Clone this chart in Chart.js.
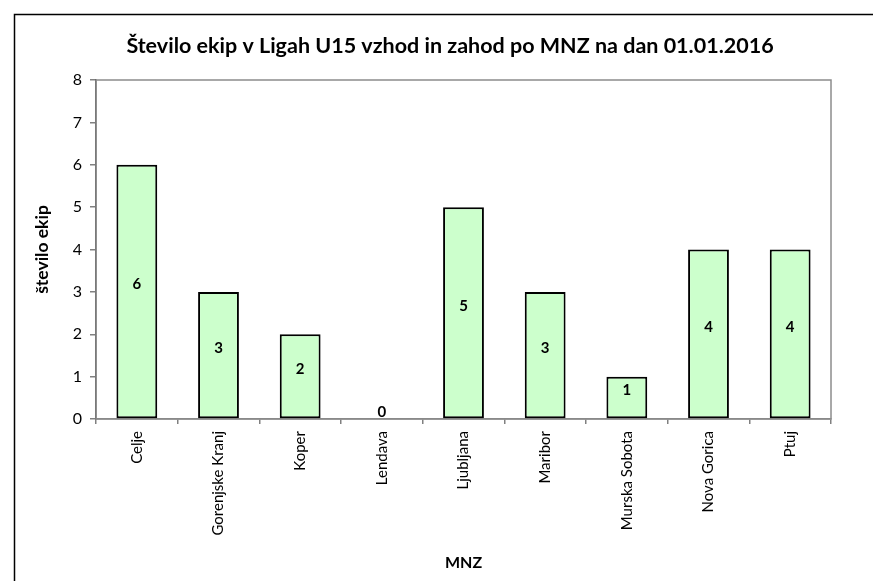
<!DOCTYPE html>
<html>
<head>
<meta charset="utf-8">
<script src="https://cdn.jsdelivr.net/npm/chart.js@4.4.0/dist/chart.umd.min.js"></script>
<style>
html,body{margin:0;padding:0;background:#fff;}
#wrap{width:873px;height:581px;position:relative;}
</style>
</head>
<body>
<div id="wrap"><canvas id="c" width="873" height="581"></canvas></div>
<script>
const categories = ["Celje","Gorenjske Kranj","Koper","Lendava","Ljubljana","Maribor","Murska Sobota","Nova Gorica","Ptuj"];
const teamCounts = [6,3,2,0,5,3,1,4,4];
const yTicks = [0,1,2,3,4,5,6,7,8];
const chartTitle = "Število ekip v Ligah U15 vzhod in zahod po MNZ na dan 01.01.2016";
const yTitle = "število ekip";
const xTitle = "MNZ";

const FONT = "Lato, 'Open Sans', sans-serif";

const frame = {
  id: 'frame',
  beforeDraw(chart) {
    const ctx = chart.ctx;
    ctx.save();
    ctx.fillStyle = '#fff';
    ctx.fillRect(0, 0, chart.width, chart.height);
    ctx.strokeStyle = '#000';
    ctx.lineWidth = 1.5;
    ctx.strokeRect(14.5, 14.5, chart.width + 20, chart.height + 20);
    ctx.font = "bold 21.5px " + FONT;
    ctx.fillStyle = '#000';
    ctx.textAlign = 'center';
    ctx.textBaseline = 'middle';
    ctx.fillText(chartTitle, 450, 46);
    ctx.restore();
  },
  beforeDatasetsDraw(chart) {
    const a = chart.chartArea;
    const ctx = chart.ctx;
    ctx.save();
    ctx.strokeStyle = '#8c8c8c';
    ctx.lineWidth = 1.5;
    ctx.strokeRect(a.left, a.top, a.right - a.left, a.bottom - a.top);
    ctx.restore();
  },
  afterDatasetsDraw(chart) {
    const ctx = chart.ctx;
    const meta = chart.getDatasetMeta(0);
    ctx.save();
    ctx.font = "bold 15px " + FONT;
    ctx.fillStyle = '#000';
    ctx.textAlign = 'center';
    ctx.textBaseline = 'middle';
    meta.data.forEach((bar, i) => {
      const cy = (bar.y + bar.base) / 2 - 7;
      ctx.fillText(String(teamCounts[i]), bar.x, cy);
    });
    ctx.restore();
  }
};

new Chart(document.getElementById('c'), {
  type: 'bar',
  data: {
    labels: categories,
    datasets: [{
      data: teamCounts,
      backgroundColor: '#CCFFCC',
      borderColor: '#000',
      borderWidth: 2,
      borderSkipped: false,
      barPercentage: 0.5,
      categoryPercentage: 1.0
    }]
  },
  options: {
    responsive: false,
    animation: false,
    devicePixelRatio: 1,
    layout: { padding: { left: 0, top: 80, right: 42, bottom: 0 } },
    plugins: {
      legend: { display: false },
      tooltip: { enabled: false },
      title: { display: false }
    },
    scales: {
      x: {
        grid: { display: true, drawOnChartArea: false, drawTicks: true, tickLength: 5, color: '#808080', lineWidth: 1.5, offset: true },
        border: { display: true, color: '#808080', width: 1.5 },
        ticks: { color: '#000', font: { family: FONT, size: 15 }, maxRotation: 90, minRotation: 90, padding: 7, autoSkip: false },
        title: { display: true, text: xTitle, color: '#000', font: { family: FONT, size: 16, weight: 'bold' }, padding: { top: 0, bottom: 9 } },
        afterFit(scale) { scale.height = 162; }
      },
      y: {
        min: 0, max: 8,
        afterBuildTicks(scale) { scale.ticks = yTicks.map(v => ({ value: v })); },
        grid: { display: true, drawOnChartArea: false, drawTicks: true, tickLength: 6, color: '#808080', lineWidth: 1.5 },
        border: { display: true, color: '#404040', width: 1.5 },
        ticks: { color: '#000', font: { family: FONT, size: 16 }, padding: 8 },
        title: { display: true, text: yTitle, color: '#000', font: { family: FONT, size: 17.5, weight: 'bold' }, padding: { top: 32, bottom: 0 } },
        afterFit(scale) { scale.width = 96; }
      }
    }
  },
  plugins: [frame]
});
</script>
</body>
</html>
